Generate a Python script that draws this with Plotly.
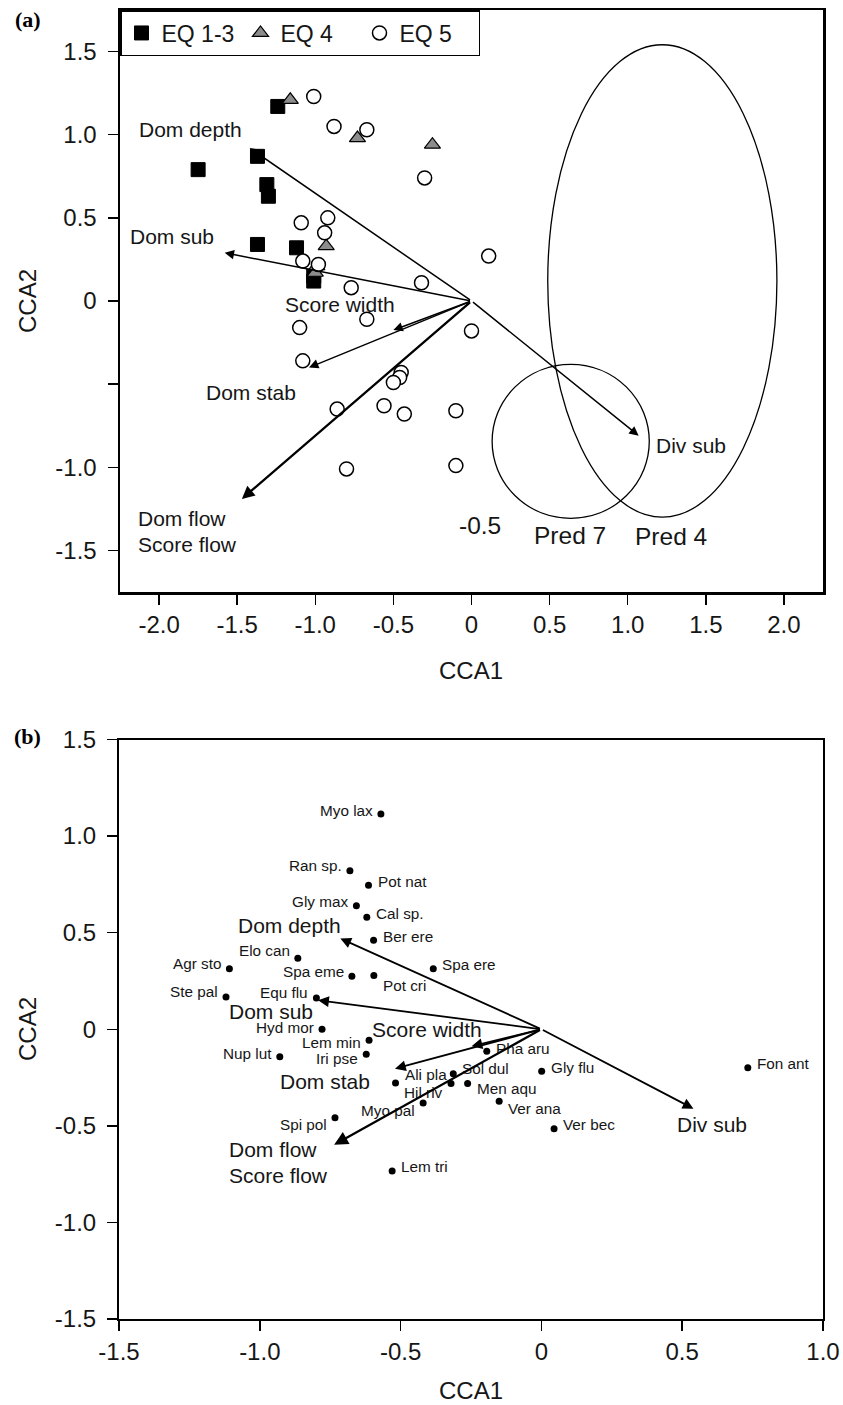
import plotly.graph_objects as go

# ---------------- Panel (a) data ----------------
eq13_x = [-1.24, -1.75, -1.37, -1.31, -1.30, -1.37, -1.12, -1.01, -1.01]
eq13_y = [1.17, 0.79, 0.87, 0.70, 0.63, 0.34, 0.32, 0.15, 0.12]
eq4_x = [-1.16, -0.73, -0.25, -0.93, -0.99, -1.00]
eq4_y = [1.21, 0.98, 0.94, 0.33, 0.21, 0.17]
eq5_x = [-1.01, -0.88, -0.67, -0.30, -1.09, -0.92, -0.94, -1.08, -0.98, -0.77,
         -0.32, 0.11, 0.00, -0.67, -1.10, -1.08, -0.45, -0.46, -0.50, -0.86,
         -0.56, -0.43, -0.10, -0.80, -0.10]
eq5_y = [1.23, 1.05, 1.03, 0.74, 0.47, 0.50, 0.41, 0.24, 0.22, 0.08,
         0.11, 0.27, -0.18, -0.11, -0.16, -0.36, -0.43, -0.46, -0.49, -0.65,
         -0.63, -0.68, -0.66, -1.01, -0.99]

env_a_names = ["Dom depth", "Dom sub", "Score width", "Dom stab", "Dom flow", "Div sub"]
env_a_x = [-1.42, -1.58, -0.50, -1.04, -1.47, 1.07]
env_a_y = [0.92, 0.29, -0.175, -0.40, -1.19, -0.81]

# label texts and their anchor points (a)
lab_a_text = ["Dom depth", "Dom sub", "Score width", "Dom stab", "Dom flow", "Score flow", "Div sub"]
lab_a_x = [-1.80, -1.92, -0.84, -1.41, -2.15, -2.15, 1.17]
lab_a_y = [1.03, 0.385, -0.02, -0.55, -1.31, -1.466, -0.87]

# predator ellipses (a)
pred_names = ["Pred 7", "Pred 4"]
pred_x0 = [0.132, 0.488]
pred_x1 = [1.138, 1.955]
pred_y0 = [-1.307, -1.30]
pred_y1 = [-0.381, 1.541]
pred_lab_x = [0.633, 1.277]
pred_lab_y = [-1.412, -1.415]

xticks_a = [-2.0, -1.5, -1.0, -0.5, 0, 0.5, 1.0, 1.5, 2.0]
xticklabels_a = ["-2.0", "-1.5", "-1.0", "-0.5", "0", "0.5", "1.0", "1.5", "2.0"]
yticks_a = [-1.5, -1.0, -0.5, 0, 0.5, 1.0, 1.5]
yticklabels_a = ["-1.5", "-1.0", "", "0", "0.5", "1.0", "1.5"]

# ---------------- Panel (b) data ----------------
species = ["Myo lax", "Ran sp.", "Pot nat", "Gly max", "Cal sp.", "Ber ere", "Elo can",
           "Agr sto", "Spa eme", "Pot cri", "Spa ere", "Ste pal", "Equ flu", "Hyd mor",
           "Lem min", "Nup lut", "Iri pse", "Pha aru", "Gly flu", "Ali pla", "Sol dul",
           "Hil riv", "Men aqu", "Myo pal", "Ver ana", "Ver bec", "Spi pol", "Lem tri",
           "Fon ant"]
sp_x = [-0.570, -0.680, -0.614, -0.657, -0.620, -0.596, -0.865,
        -1.108, -0.673, -0.595, -0.384, -1.120, -0.799, -0.779,
        -0.612, -0.929, -0.622, -0.194, 0.001, -0.518, -0.313,
        -0.321, -0.262, -0.420, -0.150, 0.045, -0.733, -0.530,
        0.733]
sp_y = [1.114, 0.820, 0.746, 0.639, 0.580, 0.461, 0.368,
        0.313, 0.275, 0.278, 0.313, 0.167, 0.162, 0.000,
        -0.057, -0.143, -0.130, -0.114, -0.218, -0.278, -0.230,
        -0.281, -0.281, -0.382, -0.373, -0.515, -0.458, -0.734,
        -0.199]
# label side relative to its dot (L = text left of dot) and vertical nudge in px
sp_side = ["L", "L", "R", "L", "R", "R", "L", "L", "L", "R", "R", "L", "L", "L", "L",
           "L", "L", "R", "R", "R", "R", "L", "R", "L", "R", "R", "L", "R", "R"]
sp_dy = [4, 5, 4, 4, 4, 4, 8, 5, 5, -10, 4, 5, 5, 2, -2,
         3, -4, 3, 4, 8, 5, -9, -5, -7, -7, 4, -7, 5, 4]

env_b_names = ["Dom depth", "Dom sub", "Score width", "Dom stab", "Dom flow", "Div sub"]
env_b_x = [-0.714, -0.793, -0.248, -0.520, -0.736, 0.540]
env_b_y = [0.470, 0.150, -0.088, -0.204, -0.598, -0.411]

lab_b_text = ["Dom depth", "Dom sub", "Score width", "Dom stab", "Dom flow", "Score flow", "Div sub"]
lab_b_x = [-0.894, -0.962, -0.408, -0.767, -1.117, -1.117, 0.605]
lab_b_y = [0.535, 0.09, -0.002, -0.268, -0.623, -0.756, -0.492]

xticks_b = [-1.5, -1.0, -0.5, 0, 0.5, 1.0]
xticklabels_b = ["-1.5", "-1.0", "-0.5", "0", "0.5", "1.0"]
yticks_b = [-1.5, -1.0, -0.5, 0, 0.5, 1.0, 1.5]
yticklabels_b = ["-1.5", "-1.0", "-0.5", "0", "0.5", "1.0", "1.5"]

# ---------------- Figure ----------------
W, H = 843, 1405
FONT = "Liberation Sans, Arial, Helvetica, sans-serif"
TXT = "#161616"


def px_x(p):
    return p / W


def px_y(p):
    return 1 - p / H


fig = go.Figure()

fig.add_trace(go.Scatter(x=eq13_x, y=eq13_y, mode="markers", name="EQ 1-3",
                         marker=dict(symbol="square", size=14, color="black",
                                     line=dict(color="black", width=1)),
                         xaxis="x", yaxis="y"))
fig.add_trace(go.Scatter(x=eq4_x, y=eq4_y, mode="markers", name="EQ 4",
                         marker=dict(symbol="triangle-up", size=14, color="#8c8c8c",
                                     line=dict(color="black", width=1.2)),
                         xaxis="x", yaxis="y"))
fig.add_trace(go.Scatter(x=eq5_x, y=eq5_y, mode="markers", name="EQ 5",
                         marker=dict(symbol="circle", size=14, color="white",
                                     line=dict(color="black", width=1.5)),
                         xaxis="x", yaxis="y"))

fig.add_trace(go.Scatter(x=sp_x, y=sp_y, mode="markers", showlegend=False,
                         marker=dict(size=7, color="black"),
                         xaxis="x2", yaxis="y2"))

annotations = []
# species labels (b)
for i, t in enumerate(species):
    left = sp_side[i] == "L"
    annotations.append(dict(x=sp_x[i], y=sp_y[i], xref="x2", yref="y2", text=t,
                            showarrow=False, xanchor="right" if left else "left",
                            yanchor="middle", xshift=-6 if left else 7, yshift=sp_dy[i],
                            font=dict(size=15.3, color=TXT, family=FONT)))

# arrows (a)
for i, nm in enumerate(env_a_names):
    annotations.append(dict(x=env_a_x[i], y=env_a_y[i], ax=0, ay=0, xref="x", yref="y",
                            axref="x", ayref="y", text="", showarrow=True,
                            arrowhead=2, arrowsize=1.25 if nm != "Dom flow" else 1.1,
                            arrowwidth=2.3 if nm == "Dom flow" else 1.5,
                            arrowcolor="black", standoff=0))
for i, t in enumerate(lab_a_text):
    left = t in ("Dom flow", "Score flow", "Div sub")
    annotations.append(dict(x=lab_a_x[i], y=lab_a_y[i], xref="x", yref="y", text=t,
                            showarrow=False, xanchor="left" if left else "center",
                            yanchor="middle",
                            font=dict(size=21, color=TXT, family=FONT)))
for i, t in enumerate(pred_names):
    annotations.append(dict(x=pred_lab_x[i], y=pred_lab_y[i], xref="x", yref="y", text=t,
                            showarrow=False, xanchor="center", yanchor="middle",
                            font=dict(size=24.5, color=TXT, family=FONT)))
annotations.append(dict(x=0.053, y=-1.348, xref="x", yref="y", text="-0.5", showarrow=False,
                        xanchor="center", yanchor="middle",
                        font=dict(size=24.5, color=TXT, family=FONT)))

# arrows (b)
for i, nm in enumerate(env_b_names):
    annotations.append(dict(x=env_b_x[i], y=env_b_y[i], ax=0, ay=0, xref="x2", yref="y2",
                            axref="x2", ayref="y2", text="", showarrow=True,
                            arrowhead=2, arrowsize=1.2,
                            arrowwidth=2.3 if nm == "Dom flow" else 1.8,
                            arrowcolor="black", standoff=0))
for i, t in enumerate(lab_b_text):
    left = t in ("Dom flow", "Score flow")
    annotations.append(dict(x=lab_b_x[i], y=lab_b_y[i], xref="x2", yref="y2", text=t,
                            showarrow=False, xanchor="left" if left else "center",
                            yanchor="middle",
                            font=dict(size=21, color=TXT, family=FONT)))

# axis titles & panel letters
for (xx, yy) in [(471, 670), (471, 1390)]:
    annotations.append(dict(x=px_x(xx), y=px_y(yy), xref="paper", yref="paper", text="CCA1",
                            xanchor="center", yanchor="middle", showarrow=False,
                            font=dict(size=24, color=TXT, family=FONT)))
for (xx, yy) in [(27, 301), (27, 1029)]:
    annotations.append(dict(x=px_x(xx), y=px_y(yy), xref="paper", yref="paper", text="CCA2",
                            xanchor="center", yanchor="middle",
                            textangle=-90, showarrow=False,
                            font=dict(size=24, color=TXT, family=FONT)))
for (xx, yy, t) in [(28, 20, "(a)"), (28, 737, "(b)")]:
    annotations.append(dict(x=px_x(xx), y=px_y(yy), xref="paper", yref="paper",
                            xanchor="center", yanchor="middle",
                            text="<b>" + t + "</b>", showarrow=False,
                            font=dict(size=22, color="black",
                                      family="Liberation Serif, Times New Roman, serif")))

shapes = []
for i in range(len(pred_names)):
    shapes.append(dict(type="circle", xref="x", yref="y", x0=pred_x0[i], x1=pred_x1[i],
                       y0=pred_y0[i], y1=pred_y1[i], line=dict(color="black", width=1.3)))

axis_common = dict(showgrid=False, zeroline=False, showline=True, mirror=True,
                   linecolor="black", ticks="outside", ticklen=10, tickwidth=1.5,
                   tickcolor="black", automargin=False,
                   tickfont=dict(size=24, color=TXT, family=FONT))

fig.update_layout(
    width=W, height=H, margin=dict(l=0, r=0, t=0, b=0, pad=0, autoexpand=False),
    paper_bgcolor="white", plot_bgcolor="white",
    font=dict(family=FONT, color=TXT),
    xaxis=dict(domain=[px_x(120), px_x(823)], range=[-2.25, 2.25], tickmode="array",
               tickvals=xticks_a, ticktext=xticklabels_a, linewidth=2.5, anchor="y",
               **axis_common),
    yaxis=dict(domain=[px_y(592), px_y(10)], range=[-1.75, 1.75], tickmode="array",
               tickvals=yticks_a, ticktext=yticklabels_a, linewidth=2.5, anchor="x",
               ticklabelstandoff=6, **axis_common),
    xaxis2=dict(domain=[px_x(119), px_x(823)], range=[-1.5, 1.0], tickmode="array",
                tickvals=xticks_b, ticktext=xticklabels_b, linewidth=2, anchor="y2",
                **axis_common),
    yaxis2=dict(domain=[px_y(1319), px_y(739.5)], range=[-1.5, 1.5], tickmode="array",
                tickvals=yticks_b, ticktext=yticklabels_b, linewidth=2, anchor="x2",
                ticklabelstandoff=6, **axis_common),
    showlegend=True,
    legend=dict(x=px_x(120), y=px_y(10), xanchor="left", yanchor="top", orientation="h",
                bordercolor="black", borderwidth=1.5, bgcolor="white",
                font=dict(size=23, color=TXT, family=FONT),
                entrywidth=74, entrywidthmode="pixels", itemsizing="trace",
                itemwidth=30, tracegroupgap=0),
    annotations=annotations,
    shapes=shapes,
)

fig.write_html("out.html", config={"displayModeBar": False, "staticPlot": True},
               post_script="document.body.style.margin='0px';"
                           "document.body.style.overflow='hidden';")
